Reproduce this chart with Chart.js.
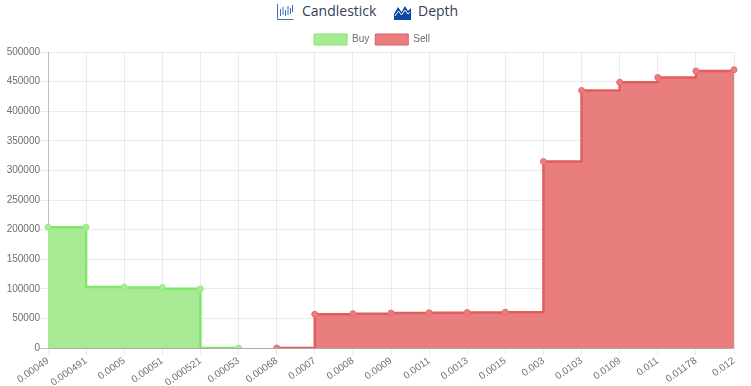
<!DOCTYPE html>
<html>
<head>
<meta charset="utf-8">
<script src="https://cdn.jsdelivr.net/npm/chart.js@4"></script>
<style>
	html, body { margin: 0; padding: 0; background: #fff; overflow: hidden; }
	#tabs { position: absolute; top: 0; left: 0; width: 751px; height: 24px; font-family: "Open Sans", sans-serif; font-size: 14px; color: #34405a; }
	#tabs span, #tabs svg { position: absolute; }
	#chartBox { position: absolute; left: 0; top: 25px; width: 751px; height: 361px; }
</style>
</head>
<body>
<div id="tabs">
	<svg style="left:277px;top:3px" width="17" height="17" viewBox="0 0 17 17" fill="none" stroke="#3f6fc0" stroke-width="1">
		<path d="M0.5 1V16.5H16.5" />
		<path d="M3.5 6V13M6 4V12M8.5 7V13M11 3V12M13.5 5V11M15.5 2V9" />
	</svg>
	<span style="left:302px;top:1px">Candlestick</span>
	<svg style="left:394px;top:3px" width="17" height="17" viewBox="0 0 17 17">
		<path d="M0 11L4 4L7.5 9L11 3L14 8L17 5V17H0Z" fill="#0d47a1" />
		<path d="M1 13L4.5 8L7.5 12L11 7L14 11L16 9" fill="none" stroke="#fff" stroke-width="1" />
	</svg>
	<span style="left:418px;top:1px">Depth</span>
</div>
<div id="chartBox"><canvas id="depthChart"></canvas></div>
<script>
const prices = ["0.00049", "0.000491", "0.0005", "0.00051", "0.000521", "0.00053", "0.00068", "0.0007", "0.0008", "0.0009", "0.0011", "0.0013", "0.0015", "0.003", "0.0103", "0.0109", "0.011", "0.01178", "0.012"];
const buyVolume = [204000, 204000, 103000, 102000, 100000, 0, null, null, null, null, null, null, null, null, null, null, null, null, null];
const sellVolume = [null, null, null, null, null, null, 0, 57000, 58000, 59000, 59500, 60000, 60500, 315000, 435000, 449000, 457000, 468000, 470000];

Chart.defaults.font.family = '"Liberation Sans", Arial, sans-serif';
Chart.defaults.font.size = 10;
Chart.defaults.color = "#6e6e6e";

// nudge the legend, it is not centred on the plot in the original
const legendShift = {
	id: "legendShift",
	afterLayout(chart) {
		chart.legend.left += 5;
		chart.legend.right += 5;
		chart.legend.top += 3;
		chart.legend.bottom += 3;
	},
};

new Chart(document.getElementById("depthChart"), {
	type: "line",
	plugins: [legendShift],
	data: {
		labels: prices,
		datasets: [
			{
				label: "Buy",
				data: buyVolume,
				stepped: "after",
				fill: "origin",
				backgroundColor: "#a9eb94",
				borderColor: "#7fe86a",
				borderWidth: 2.5,
				pointRadius: 3,
				pointBackgroundColor: "#a9eb94",
				pointBorderColor: "#9be885",
				pointBorderWidth: 1,
			},
			{
				label: "Sell",
				data: sellVolume,
				stepped: "before",
				fill: "origin",
				backgroundColor: "#e87e7e",
				borderColor: "#e35d5d",
				borderWidth: 2.5,
				pointRadius: 3,
				pointBackgroundColor: "#e87e7e",
				pointBorderColor: "#e56f6f",
				pointBorderWidth: 1,
			},
		],
	},
	options: {
		responsive: true,
		maintainAspectRatio: false,
		animation: false,
		layout: { padding: { left: 0, right: 17, top: 0, bottom: 0 } },
		plugins: {
			tooltip: { enabled: false },
			legend: {
				labels: {
					boxWidth: 33,
					boxHeight: 11,
					padding: 6,
					font: { size: 10 },
					generateLabels(chart) {
						// thinner box border than the line itself
						return Chart.defaults.plugins.legend.labels.generateLabels(chart).map((item) => {
							item.lineWidth = 1;
							return item;
						});
					},
				},
			},
		},
		scales: {
			x: {
				offset: false,
				afterFit: (axis) => { axis.height = 38; },
				grid: { color: "rgba(0,0,0,0.08)", tickLength: 7 },
				ticks: { autoSkip: false, minRotation: 35, maxRotation: 35, padding: 0 },
			},
			y: {
				min: 0,
				max: 500000,
				afterFit: (axis) => { axis.width = 48; },
				border: { color: "rgba(0,0,0,0.2)" },
				grid: {
					color: (ctx) => (ctx.tick && ctx.tick.value === 0 ? "rgba(0,0,0,0.25)" : "rgba(0,0,0,0.08)"),
				},
				ticks: { stepSize: 50000, padding: 0, callback: (v) => String(v) },
			},
		},
	},
});
</script>
</body>
</html>
